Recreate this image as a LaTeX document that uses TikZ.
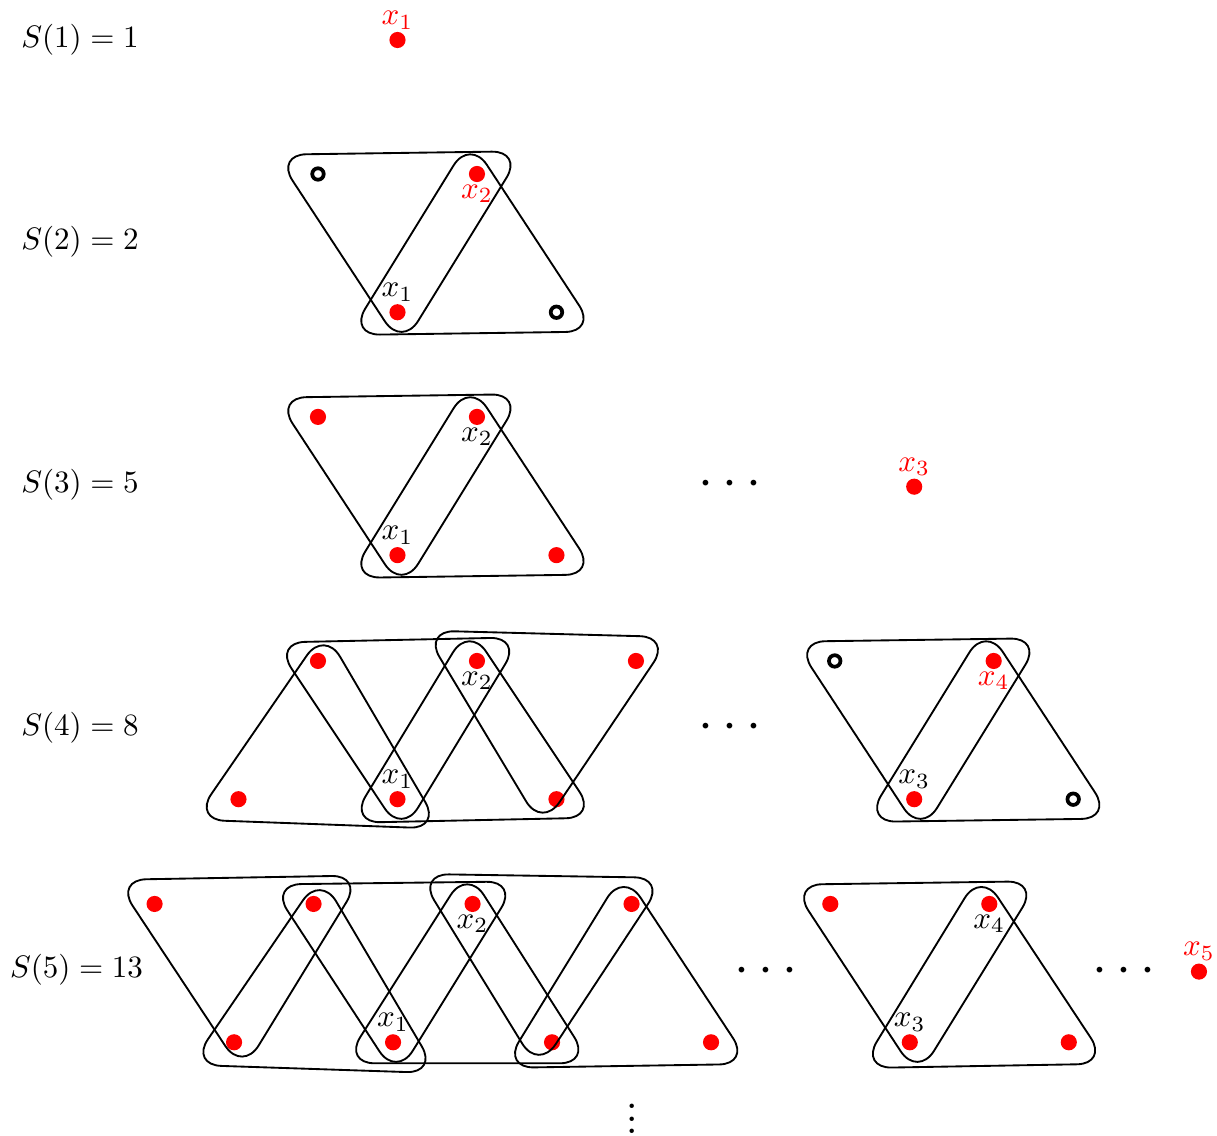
\documentclass[tikz,border=0pt]{standalone}
\usepackage{xcolor}
\usepackage{tikz}
\tikzset{
  vtx/.style={circle,fill=red,inner sep=0pt,minimum size=5.2pt},
  hole/.style={circle,draw=black,line width=1.2pt,inner sep=0pt,minimum size=3.7pt},
  hedge/.style={semithick,rounded corners=10pt},
  newlab/.style={text=red}
}
\begin{document}
\begin{tikzpicture}
  \useasboundingbox (0,0) rectangle (13.778,-12.85);
  % row labels
  \foreach \n/\v/\y in {1/1/-0.453,2/2/-2.74,3/5/-5.49,4/8/-8.242}
    \node (s\n) at (0.906,\y) {$S(\n)=\v$};
  \node (s5) at (0.866,-10.98) {$S(5)=13$};

  % S(1)
  \node[vtx] (v1) at (4.5,-0.453) {};
  \node[above,newlab] (l11) at (v1) {$x_1$};

  % S(2)
  \node[hole] (t21) at (3.6,-1.97) {};
  \node[vtx]  (t22) at (5.4,-1.97) {};
  \node[vtx]  (b21) at (4.5,-3.535) {};
  \node[hole] (b22) at (6.3,-3.535) {};
  \node[below,newlab] (l22) at (t22) {$x_2$};
  \node[above] (l21) at (b21) {$x_1$};

  % S(3)
  \foreach \x [count=\i] in {3.6,5.4} \node[vtx] (t3\i) at (\x,-4.72) {};
  \foreach \x [count=\i] in {4.5,6.3} \node[vtx] (b3\i) at (\x,-6.285) {};
  \node[vtx] (v3) at (10.35,-5.51) {};
  \node[below] (l32) at (t32) {$x_2$};
  \node[above] (l31) at (b31) {$x_1$};
  \node[above,newlab] (l33) at (v3) {$x_3$};

  % S(4)
  \foreach \x [count=\i] in {3.6,5.4,7.2} \node[vtx] (t4\i) at (\x,-7.483) {};
  \foreach \x [count=\i] in {2.7,4.5,6.3} \node[vtx] (b4\i) at (\x,-9.048) {};
  \node[hole] (t44) at (9.45,-7.483) {};
  \node[vtx]  (t45) at (11.25,-7.483) {};
  \node[vtx]  (b44) at (10.35,-9.048) {};
  \node[hole] (b45) at (12.15,-9.048) {};
  \node[below] (l42) at (t42) {$x_2$};
  \node[above] (l41) at (b42) {$x_1$};
  \node[above] (l43) at (b44) {$x_3$};
  \node[below,newlab] (l44) at (t45) {$x_4$};

  % S(5)
  \foreach \x [count=\i] in {1.75,3.55,5.35,7.15,9.4,11.2} \node[vtx] (t5\i) at (\x,-10.234) {};
  \foreach \x [count=\i] in {2.65,4.45,6.25,8.05,10.3,12.1} \node[vtx] (b5\i) at (\x,-11.8) {};
  \node[vtx] (v5) at (13.574,-11.0) {};
  \node[below] (l52) at (t53) {$x_2$};
  \node[above] (l51) at (b52) {$x_1$};
  \node[above] (l53) at (b55) {$x_3$};
  \node[below] (l54) at (t56) {$x_4$};
  \node[above,newlab] (l55) at (v5) {$x_5$};

  % hyperedges pointing down: top left/top right/bottom/tilt/shift
  \foreach \a/\b/\c/\t/\dx/\dy in {
      t21/t22/b21/0.8/0.03/0, t31/t32/b31/0.8/0.03/0,
      t41/t42/b42/1.2/0.02/0, t42/t43/b43/-1.5/-0.125/0.07, t44/t45/b44/0.8/0.055/0,
      t51/t52/b51/1/0.07/0.06, t52/t53/b52/0.7/0.02/0, t53/t54/b53/-0.9/-0.13/0.08,
      t55/t56/b55/0.8/0.07/0}
    \draw[hedge,shift={(barycentric cs:\a=1,\b=1,\c=1)},shift={(\dx,\dy)},rotate=\t]
      (-1.4,0.76) -- (1.4,0.76) -- (0,-1.44) -- cycle;
  % hyperedges pointing up: bottom left/top/bottom right/tilt/shift
  \foreach \a/\b/\c/\t/\dx/\dy in {
      b21/t22/b22/0.8/-0.06/0, b31/t32/b32/0.8/-0.06/0,
      b41/t41/b42/-2.1/0.02/-0.045, b42/t42/b43/1.2/-0.06/0, b44/t45/b45/0.8/-0.07/0,
      b51/t52/b52/-1.9/0.03/-0.065, b52/t53/b53/0/-0.06/0, b53/t54/b54/0.9/-0.07/-0.03,
      b55/t56/b56/1/-0.07/-0.03}
    \draw[hedge,shift={(barycentric cs:\a=1,\b=1,\c=1)},shift={(\dx,\dy)},rotate=\t]
      (-1.4,-0.76) -- (1.4,-0.76) -- (0,1.44) -- cycle;

  % dots
  \foreach \x/\y [count=\i] in {8.264/-5.49,8.264/-8.242,8.672/-11.0,12.725/-11.0}
    \node[font=\LARGE] (dots\i) at (\x,\y) {$\cdots$};
  \node[font=\LARGE,anchor=base,inner sep=0pt] (vdots) at (7.155,-12.835) {$\vdots$};
\end{tikzpicture}
\end{document}
